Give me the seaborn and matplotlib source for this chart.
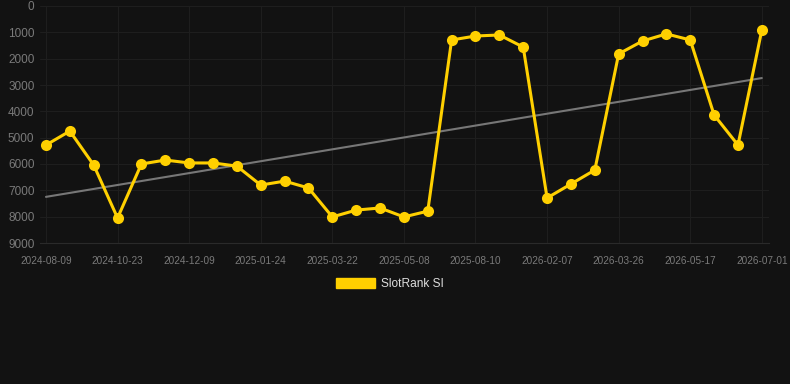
import seaborn as sns
import matplotlib.pyplot as plt
import pandas as pd
import numpy as np
from matplotlib.patches import Patch

sns.set_theme(style="dark")
plt.rcParams['font.family'] = ['Liberation Sans', 'DejaVu Sans']

tick_labels = ["2024-08-09", "2024-10-23", "2024-12-09", "2025-01-24", "2025-03-22", "2025-05-08",
               "2025-08-10", "2026-02-07", "2026-03-26", "2026-05-17", "2026-07-01"]
ranks = [5280, 4750, 6040, 8050, 6000, 5850, 5960, 5960, 6080, 6800,
         6650, 6910, 8010, 7750, 7670, 8010, 7790, 1290, 1140, 1100,
         1560, 7290, 6760, 6230, 1820, 1330, 1060, 1290, 4140, 5280, 910]

df = pd.DataFrame({"idx": np.arange(len(ranks)), "rank": ranks})

bg = "#121212"
gold = "#FFD000"

fig = plt.figure(figsize=(7.9, 3.84), dpi=100, facecolor=bg)
ax = fig.add_axes([40 / 790, 1 - 243 / 384, 729 / 790, 237 / 384])
ax.set_facecolor(bg)

sns.regplot(x="idx", y="rank", data=df, ax=ax, scatter=False, ci=None,
            color="#777777", line_kws={"linewidth": 1.5})
sns.lineplot(x="idx", y="rank", data=df, ax=ax, color=gold, linewidth=2.2,
             marker="o", markersize=8, markeredgewidth=0)

ax.set_xlim(-0.25, 30.3)
ax.set_ylim(9000, 0)
ax.set_yticks(range(0, 9001, 1000))
ax.set_xticks(range(0, len(ranks), 3))
ax.set_xticklabels(tick_labels)
ax.tick_params(axis="x", colors="#7a7a7a", labelsize=7.2, length=0, pad=9)
ax.tick_params(axis="y", colors="#7a7a7a", labelsize=8.5, length=0, pad=4)
ax.grid(True, color="#1e1e1e", linewidth=0.8)
for s in ax.spines.values():
    s.set_visible(False)
ax.spines["bottom"].set_visible(True)
ax.spines["bottom"].set_color("#2a2a2a")
ax.spines["bottom"].set_linewidth(0.8)
ax.set_xlabel("")
ax.set_ylabel("")

fig.legend(handles=[Patch(facecolor=gold, edgecolor=gold, label="SlotRank SI")],
           loc="center", bbox_to_anchor=(390 / 790, 1 - 284 / 384), frameon=False,
           fontsize=8.6, labelcolor="#dddddd", handlelength=3.3, handleheight=1.0,
           handletextpad=0.5)

plt.savefig("out.png", dpi=100, facecolor=bg)
